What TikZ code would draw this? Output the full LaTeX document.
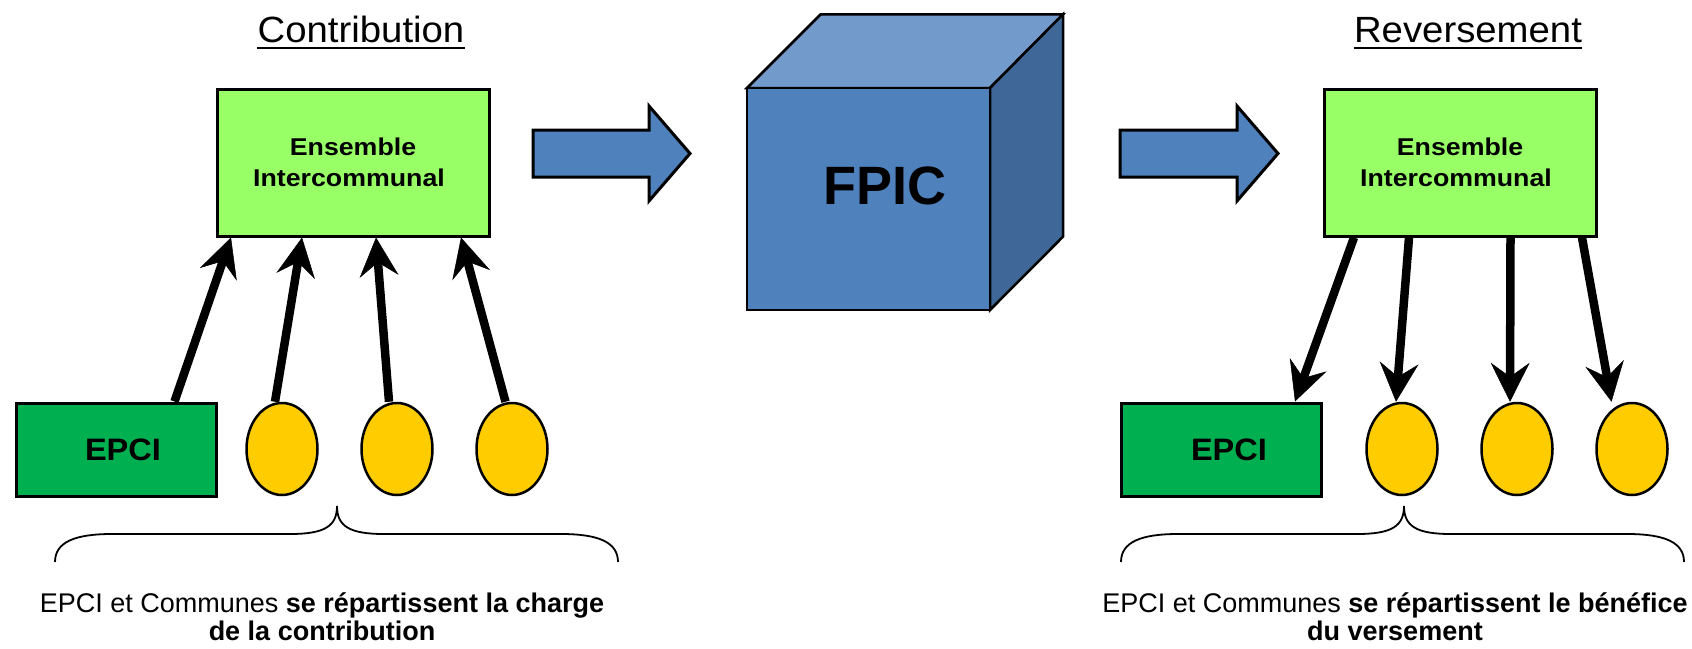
\documentclass[tikz,border=0pt]{standalone}
\usepackage{fontspec}
\setmainfont{Liberation Sans}
\newfontfamily\boxfont[FakeStretch=1.1]{Liberation Sans}
\newfontfamily\labfont[FakeStretch=1.05]{Liberation Sans}
\usetikzlibrary{arrows.meta,shapes.geometric}

\definecolor{boxgreen}{HTML}{99FF66}
\definecolor{epcigreen}{HTML}{00B050}
\definecolor{communeyellow}{HTML}{FFCC00}
\definecolor{flowblue}{HTML}{4F81BD}
\definecolor{cubetop}{HTML}{729ACB}
\definecolor{cubeside}{HTML}{3F6899}

\newcommand\fsz[2]{\fontsize{#1}{#2}\selectfont}

\begin{document}
\begin{tikzpicture}[x=1pt,y=-1pt,
  ensbox/.style={draw=black, line width=3pt, fill=boxgreen,
    minimum width=272pt, minimum height=147pt, inner sep=0pt,
    align=center, font=\boxfont\bfseries\fsz{24.3}{30.7}},
  epcibox/.style={draw=black, line width=3pt, fill=epcigreen,
    minimum width=200pt, minimum height=93pt, inner sep=0pt,
    font=\labfont\bfseries\fsz{31}{36}},
  commune/.style={ellipse, draw=black, line width=2.5pt, fill=communeyellow,
    minimum width=71pt, minimum height=92pt, inner sep=0pt},
  flow/.style={line width=8.5pt,
    -{Stealth[length=39pt,width=39pt,inset=14pt,line width=0.5pt]}},
  bigarrow/.style={draw=black, line width=3pt, fill=flowblue, line join=miter},
  cubeface/.style={draw=black, line width=2.5pt, line join=miter},
  brace/.style={draw=black, line width=1.8pt},
  heading/.style={inner sep=0pt, anchor=base, font=\labfont\fsz{36.5}{40}},
  caption/.style={inner sep=0pt, anchor=base, align=center, font=\fsz{27}{28}}
]
\useasboundingbox[fill=white] (0,0) rectangle (1692,648);

% headings
\node[heading] (tcontrib) at (361,42.7) {Contribution};
\draw[line width=2.3pt] ([yshift=-5.6pt]tcontrib.base west) -- ([yshift=-5.6pt]tcontrib.base east);
\node[heading] (trevers) at (1468,42.7) {Reversement};
\draw[line width=2.3pt] ([yshift=-5.6pt]trevers.base west) -- ([yshift=-5.6pt]trevers.base east);

% contribution side
\node[ensbox] (boxL) at (353,162.5) {Ensemble\\Intercommunal\hspace*{8pt}};
\node[epcibox] (epciL) at (116,449.5) {\hspace*{14pt}EPCI};
\node[commune] (c1) at (282,449) {};
\node[commune] (c2) at (397,449) {};
\node[commune] (c3) at (512,449) {};

\draw[flow] ([xshift=58.5pt]epciL.north) -- ([xshift=15.5pt]boxL.south west);
\draw[flow] ([xshift=-7pt]c1.north) -- ([xshift=86.5pt]boxL.south west);
\draw[flow] ([xshift=-8pt]c2.north) -- ([xshift=160.5pt]boxL.south west);
\draw[flow] ([xshift=-6.5pt]c3.north) -- ([xshift=245.5pt]boxL.south west);

% reversement side
\node[ensbox] (boxR) at (1460,162.5) {Ensemble\\Intercommunal\hspace*{8pt}};
\node[epcibox] (epciR) at (1221,449.5) {\hspace*{16pt}EPCI};
\node[commune] (c4) at (1402,449) {};
\node[commune] (c5) at (1517,449) {};
\node[commune] (c6) at (1632,449) {};

\draw[flow] ([xshift=31.5pt]boxR.south west) -- ([xshift=74pt]epciR.north);
\draw[flow] ([xshift=86.5pt]boxR.south west) -- ([xshift=-6pt]c4.north);
\draw[flow] ([xshift=188pt]boxR.south west) -- ([xshift=-7pt]c5.north);
\draw[flow] ([xshift=259.5pt]boxR.south west) -- ([xshift=-20.5pt]c6.north);

% big flow arrows
\draw[bigarrow] (533,130) -- (649,130) -- (649,106) -- (690,153.5)
  -- (649,201) -- (649,177) -- (533,177) -- cycle;
\draw[bigarrow] (1120,130) -- (1237,130) -- (1237,106) -- (1278,153.5)
  -- (1237,201) -- (1237,177) -- (1120,177) -- cycle;

% FPIC cube
\draw[cubeface, fill=cubetop] (747,88) -- (820.7,14.3) -- (1063,14.3) -- (990,88) -- cycle;
\draw[cubeface, fill=cubeside] (990,88) -- (1063,14.3) -- (1063,236.7) -- (990,310) -- cycle;
\draw[cubeface, fill=flowblue] (747,88) rectangle (990,310);
\node[font=\bfseries\fsz{54}{60}, inner sep=0pt] (fpic) at (884.5,186.3) {FPIC};

% braces
\draw[brace] (55,562) .. controls (55,542) and (75,534) .. (112,534) -- (290,534)
  .. controls (325,534) and (337,526) .. (337,506)
  .. controls (337,526) and (349,534) .. (384,534) -- (561,534)
  .. controls (598,534) and (618,542) .. (618,562);
\draw[brace] (1121,562) .. controls (1121,542) and (1141,534) .. (1178,534) -- (1357,534)
  .. controls (1392,534) and (1404,526) .. (1404,506)
  .. controls (1404,526) and (1416,534) .. (1451,534) -- (1627,534)
  .. controls (1664,534) and (1684,542) .. (1684,562);

% captions (base anchor sits on the last line)
\node[caption] (capL) at (322,640) {EPCI et Communes \textbf{se répartissent la charge}\\\textbf{de la contribution}};
\node[caption] (capR) at (1395,640) {EPCI et Communes \textbf{se répartissent le bénéfice}\\\textbf{du versement}};
\end{tikzpicture}
\end{document}
